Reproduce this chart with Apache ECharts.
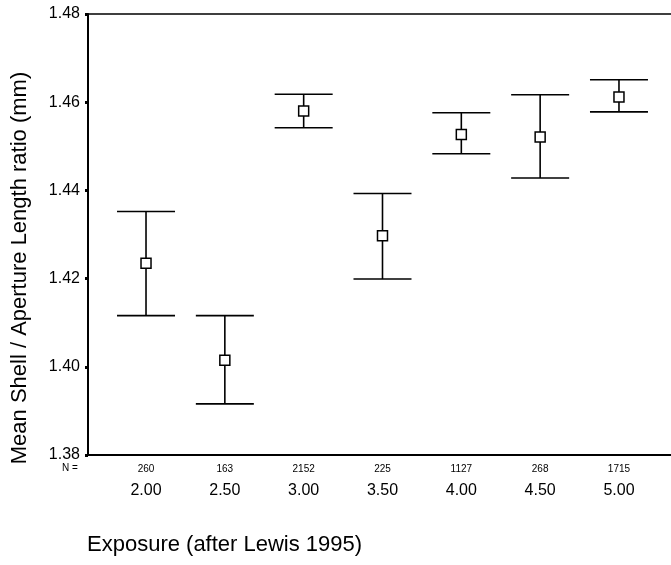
<!DOCTYPE html>
<html>
<head>
<meta charset="utf-8">
<script src="https://cdn.jsdelivr.net/npm/echarts@6/dist/echarts.min.js"></script>
<style>
  html, body { margin: 0; padding: 0; background: #fff; }
  #main { width: 671px; height: 565px; }
</style>
</head>
<body>
<div id="main"></div>
<script>
// exposure categories and group sizes
var exposure = [2.00, 2.50, 3.00, 3.50, 4.00, 4.50, 5.00];
var nCounts = [260, 163, 2152, 225, 1127, 268, 1715];
// mean ratio and the error bar ends
var means = [1.4235, 1.4015, 1.4580, 1.4297, 1.4527, 1.4521, 1.4612];
var lower = [1.4116, 1.3916, 1.4542, 1.4199, 1.4483, 1.4428, 1.4578];
var upper = [1.4352, 1.4116, 1.4618, 1.4393, 1.4576, 1.4617, 1.4651];

var font = '"Liberation Sans", Arial, sans-serif';
var myChart = echarts.init(document.getElementById('main'));

var barData = [], meanData = [];
for (var i = 0; i < exposure.length; i++) {
    barData.push([exposure[i], lower[i], upper[i]]);
    meanData.push([exposure[i], means[i]]);
}

var option = {
    backgroundColor: '#fff',
    animation: false,
    grid: { left: 88, top: 14, right: 0, bottom: 110 },
    xAxis: [{
        type: 'value',
        min: 1.632,
        max: 5.33,
        splitLine: { show: false },
        axisTick: { show: false },
        axisLine: { show: true, lineStyle: { color: '#000', width: 2 } },
        axisLabel: {
            customValues: exposure,
            margin: 2,
            color: '#000',
            fontFamily: font,
            formatter: function (v) {
                var k = exposure.indexOf(v);
                return '{n|' + nCounts[k] + '}\n{c|' + v.toFixed(2) + '}';
            },
            rich: {
                n: { fontSize: 10, lineHeight: 24, fontFamily: font, color: '#000' },
                c: { fontSize: 16, lineHeight: 20, fontFamily: font, color: '#000' }
            }
        }
    }, {
        type: 'value',
        position: 'top',
        min: 1.632,
        max: 5.33,
        splitLine: { show: false },
        axisTick: { show: false },
        axisLabel: { show: false },
        axisLine: { show: true, lineStyle: { color: '#000', width: 1.5 } }
    }],
    yAxis: {
        type: 'value',
        min: 1.38,
        max: 1.48,
        interval: 0.02,
        splitLine: { show: false },
        axisLine: { show: true, lineStyle: { color: '#000', width: 2 } },
        axisTick: { show: true, length: 3, lineStyle: { color: '#000', width: 3 } },
        axisLabel: {
            margin: 8,
            color: '#000',
            fontSize: 16,
            fontFamily: font,
            formatter: function (v) { return v.toFixed(2); }
        }
    },
    graphic: [
        { type: 'text', left: 62, top: 463,
          style: { text: 'N =', fontSize: 10, fontFamily: font, fill: '#000' } },
        { type: 'text', left: 87, top: 534,
          style: { text: 'Exposure (after Lewis 1995)', fontSize: 22, fontFamily: font, fill: '#000' } },
        { type: 'text', x: 20, y: 268, rotation: Math.PI / 2,
          style: { text: 'Mean Shell / Aperture Length ratio (mm)', fontSize: 22, fontFamily: font,
                   fill: '#000', align: 'center', verticalAlign: 'middle' } }
    ],
    series: [{
        type: 'custom',
        data: barData,
        renderItem: function (params, api) {
            var x = api.value(0);
            var lo = api.coord([x, api.value(1)]);
            var hi = api.coord([x, api.value(2)]);
            var hw = 29;
            var st = { stroke: '#000', lineWidth: 1.6 };
            return {
                type: 'group',
                children: [
                    { type: 'line', shape: { x1: lo[0], y1: lo[1], x2: hi[0], y2: hi[1] }, style: st },
                    { type: 'line', shape: { x1: hi[0] - hw, y1: hi[1], x2: hi[0] + hw, y2: hi[1] }, style: st },
                    { type: 'line', shape: { x1: lo[0] - hw, y1: lo[1], x2: lo[0] + hw, y2: lo[1] }, style: st }
                ]
            };
        },
        z: 2
    }, {
        type: 'scatter',
        data: meanData,
        symbol: 'rect',
        symbolSize: 10,
        itemStyle: { color: '#fff', borderColor: '#000', borderWidth: 1.5, opacity: 1 },
        z: 3
    }]
};
myChart.setOption(option);
</script>
</body>
</html>
